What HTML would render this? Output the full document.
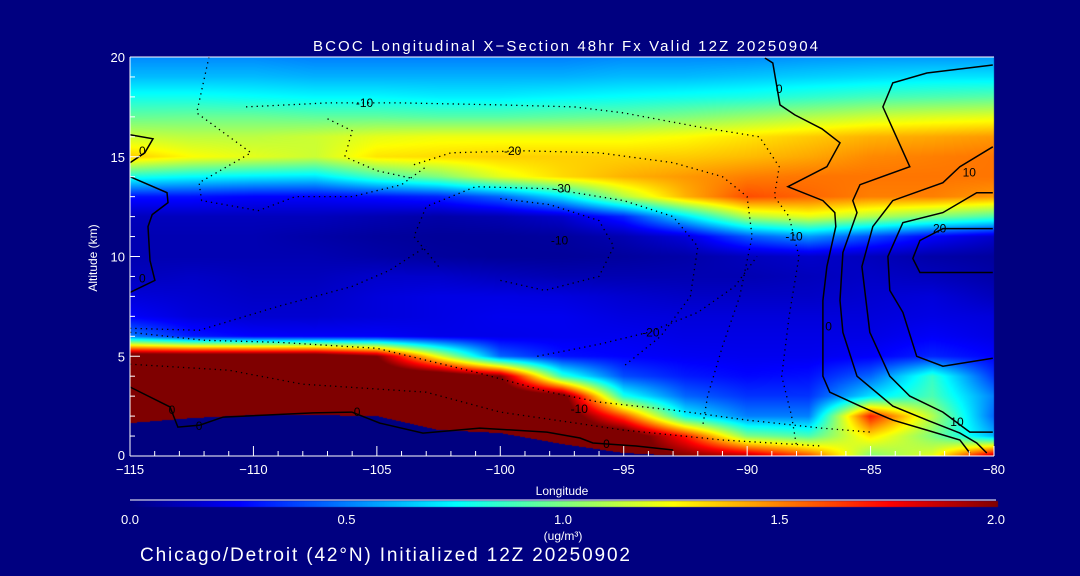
<!DOCTYPE html>
<html><head><meta charset="utf-8">
<style>
html,body{margin:0;padding:0;background:#000080;}
#wrap{position:relative;width:1080px;height:576px;background:#000080;overflow:hidden;font-family:"Liberation Sans",sans-serif;color:#fff;}
canvas{position:absolute;left:0;top:0;}
svg{position:absolute;left:0;top:0;}
</style></head>
<body>
<div id="wrap">
<canvas id="heat" width="1080" height="576"></canvas>
<svg id="svg" width="1080" height="576"></svg>
</div>
<script>
const longitudes = [-115,-112.5,-110,-107.5,-105,-102.5,-100,-97.5,-95,-92.5,-90,-87.5,-85,-82.5,-80];
const altitudesTopDown = [20,19,18,17,16,15,14,13,12,11,10,9,8,7,6,5,4,3,2,1,0];
const concRows = [
[.52,.52,.52,.50,.50,.50,.50,.50,.52,.52,.52,.54,.55,.55,.55],
[.62,.62,.62,.60,.60,.60,.60,.60,.62,.62,.64,.66,.68,.70,.70],
[.78,.78,.76,.74,.74,.72,.72,.74,.76,.78,.80,.84,.88,.90,.92],
[.95,.96,.96,.94,.94,.92,.92,.94,.96,1.0,1.05,1.1,1.15,1.18,1.2],
[1.15,1.12,1.12,1.15,1.2,1.22,1.22,1.22,1.22,1.25,1.3,1.35,1.4,1.42,1.45],
[1.35,1.25,1.2,1.15,1.3,1.32,1.34,1.34,1.34,1.35,1.38,1.42,1.48,1.5,1.52],
[.80,.75,.72,.70,.88,1.0,1.2,1.32,1.4,1.45,1.5,1.52,1.52,1.52,1.52],
[.28,.28,.25,.25,.28,.32,.45,.70,1.1,1.4,1.6,1.55,1.5,1.5,1.45],
[.12,.12,.12,.12,.1,.08,.1,.15,.32,.7,1.1,1.2,1.1,1.0,.9],
[.1,.1,.1,.08,.06,.05,.05,.06,.1,.18,.42,.55,.4,.25,.15],
[.1,.1,.1,.1,.08,.06,.05,.05,.06,.08,.12,.15,.12,.08,.06],
[.12,.14,.12,.12,.15,.15,.12,.1,.1,.1,.1,.12,.14,.12,.08],
[.18,.16,.14,.14,.18,.2,.2,.19,.16,.14,.14,.14,.16,.18,.12],
[.24,.18,.16,.16,.18,.2,.22,.22,.19,.18,.18,.18,.18,.2,.18],
[.5,.3,.25,.24,.24,.21,.21,.22,.22,.2,.2,.2,.2,.24,.2],
[2.2,2.2,2.2,2.2,2.0,1.2,.45,.28,.25,.23,.22,.22,.24,.32,.25],
[2.2,2.2,2.2,2.2,2.2,2.2,2.0,.85,.4,.3,.26,.28,.45,.85,.35],
[2.2,2.2,2.2,2.2,2.2,2.2,2.2,2.1,.8,.45,.35,.35,.7,.9,.5],
[2.2,2.2,2.2,2.2,2.2,2.2,2.2,2.2,1.6,.75,.5,.5,1.7,1.1,.45],
[2.2,2.2,2.2,2.2,2.2,2.2,2.2,2.2,2.2,1.7,1.0,.9,1.3,1.0,.6],
[2.2,2.2,2.2,2.2,2.2,2.2,2.2,2.2,2.1,2.0,1.9,1.6,1.0,1.2,1.9]
];
const terrainHeight = [1.65,1.9,2.05,2.05,2.0,1.3,1.15,0.6,0.15,0,0,0,0,0,0];
const xTickLabels = [-115,-110,-105,-100,-95,-90,-85,-80];
const yTickLabels = [0,5,10,15,20];
const cbarTickLabels = ["0.0","0.5","1.0","1.5","2.0"];
const cbarTickValues = [0,0.5,1,1.5,2];
const contourZeroRight = [[-89.28,19.95],[-88.96,19.7],[-88.67,17.6],[-88.07,17.1],[-86.97,16.4],[-86.24,15.7],[-86.77,14.5],[-88.35,13.5],[-86.93,12.8],[-86.45,12.2],[-86.41,11.5],[-86.77,9.5],[-86.93,7.8],[-86.93,4.0],[-86.65,3.2],[-85.43,2.5],[-84.10,1.8],[-82.72,1.3],[-81.38,0.8],[-80.98,0.15]];
const contourTenA = [[-80.05,19.6],[-82.72,19.2],[-84.10,18.7],[-84.50,17.5],[-83.41,14.5],[-85.43,13.6],[-85.72,12.8],[-85.55,12.2],[-86.12,10.2],[-86.24,7.8],[-86.12,6.2],[-85.55,4.0],[-84.10,2.5],[-82.72,1.8],[-81.38,1.15],[-80.70,0.65],[-80.29,0.15]];
const contourTenB = [[-80.05,15.5],[-81.38,14.5],[-82.07,13.7],[-84.10,12.8],[-84.91,11.5],[-85.35,9.5],[-85.03,6.2],[-84.22,4.0],[-83.41,3.0],[-82.07,2.2],[-80.98,1.2],[-80.05,1.2]];
const contourTwenty = [[-80.05,13.2],[-80.70,13.2],[-82.07,12.2],[-83.69,11.7],[-84.30,10.0],[-84.22,8.3],[-83.69,7.2],[-83.13,5.0],[-82.07,4.5],[-80.05,4.9]];
const contourThirty = [[-80.05,11.4],[-82.07,11.4],[-83.0,10.8],[-83.29,9.9],[-83.0,9.2],[-80.05,9.2]];
const contourZeroLeftTop = [[-115,16.1],[-114.07,15.9],[-114.4,15.2],[-115,14.7]];
const contourZeroLeft = [[-115,14.0],[-113.5,13.2],[-113.46,12.7],[-114.1,12.1],[-114.27,11.5],[-114.19,9.8],[-113.99,8.8],[-115,8.2]];
const contourZeroBottom = [[-115,3.46],[-113.38,2.46],[-113.06,1.45],[-112.17,1.55],[-111.23,1.95],[-107.59,2.16],[-106.01,2.2],[-104.88,1.65],[-103.13,1.15],[-100.83,1.4],[-98.11,1.2],[-96.77,0.9],[-96.25,0.65],[-94.5,0.5],[-93,0.3]];
const dottedA = [[-111.8,20],[-112.3,17.2],[-110.1,15.2],[-112.2,13.7],[-112.1,12.8],[-109.8,12.3],[-108.3,13.0],[-106,13.0],[-104,13.6],[-103,14.5]];
const dottedB = [[-110.3,17.5],[-107,17.7],[-104,17.7],[-100,17.6],[-97,17.5],[-95,17.2],[-92,16.5],[-89.5,16.0],[-88.7,14.5],[-88.9,13.0],[-88.3,12.0],[-87.9,10],[-88.3,7],[-88.6,4],[-88.2,2],[-88,0.5]];
const dottedC = [[-107,16.9],[-106,16.3],[-106.3,15],[-105,14.3],[-103.5,13.9]];
const dottedD = [[-103.5,14.6],[-102,15.2],[-99,15.3],[-96,15.2],[-93,14.7],[-91,14.0],[-90,13.0],[-89.8,11],[-90.3,8],[-91,5.5],[-91.6,3],[-91.8,1.5]];
const dottedE = [[-102.5,9.5],[-103.5,11],[-103,12.5],[-101,13.5],[-98,13.4],[-95,12.8],[-93,12],[-92,10.5],[-92.3,8],[-93.5,6],[-95,4.5]];
const dottedF = [[-100,12.9],[-98,12.6],[-96,11.8],[-95.4,10.5],[-96,9],[-98.2,8.3],[-100,8.8]];
const dottedG = [[-98.5,5],[-96,5.6],[-94,6.2],[-92,7.2],[-90.5,8.5],[-89.6,10]];
const dottedH = [[-115,6.2],[-112,5.8],[-109,5.7],[-105,5.4],[-101,4.2],[-98,3.2],[-96,2.7],[-93,2.3],[-90,1.8],[-87,1.4],[-85,1.2]];
const dottedI = [[-115,6.4],[-112.2,6.3],[-109,7.5],[-106,8.5],[-104.5,9.3],[-103,10.5]];
const dottedJ = [[-115,4.6],[-111,4.3],[-108,3.6],[-103,3.2],[-100,2.2],[-95,1.3],[-91,0.8],[-87,0.5]];
const contourLabels = [["-10",-105.5,17.7],["-20",-99.5,15.3],["-30",-97.5,13.4],["0",-88.7,18.4],["10",-81,14.2],["20",-82.2,11.4],["10",-81.5,1.7],["0",-86.7,6.5],["-10",-88.1,11],["-20",-93.9,6.2],["-10",-96.8,2.35],["0",-95.7,0.6],["0",-105.8,2.2],["0",-112.2,1.5],["0",-113.3,2.3],["0",-114.5,15.3],["0",-114.5,8.9],["-10",-97.6,10.8]];

const X0=130, X1=994, Y0=456, Y1=57;
function xScale(lon){return X0+(lon+115)/35*(X1-X0);}
function yScale(alt){return Y0-(alt/20)*(Y0-Y1);}
function jet(v){
  let t=Math.max(0,Math.min(1,v/2));
  function c(x){return Math.max(0,Math.min(1,x));}
  let r=c(1.5-Math.abs(4*t-3)), g=c(1.5-Math.abs(4*t-2)), b=c(1.5-Math.abs(4*t-1));
  return [r*255|0,g*255|0,b*255|0];
}
function sample(lon,alt){
  let fi=(lon-longitudes[0])/(longitudes[1]-longitudes[0]);
  let fj=(20-alt);
  fi=Math.max(0,Math.min(longitudes.length-1.0001,fi));
  fj=Math.max(0,Math.min(altitudesTopDown.length-1.0001,fj));
  let i=Math.floor(fi), j=Math.floor(fj), a=fi-i, b=fj-j;
  let v00=concRows[j][i],v10=concRows[j][i+1],v01=concRows[j+1][i],v11=concRows[j+1][i+1];
  return (v00*(1-a)+v10*a)*(1-b)+(v01*(1-a)+v11*a)*b;
}
function terrainAt(lon){
  let fi=(lon-longitudes[0])/(longitudes[1]-longitudes[0]);
  fi=Math.max(0,Math.min(longitudes.length-1.0001,fi));
  let i=Math.floor(fi),a=fi-i;
  return terrainHeight[i]*(1-a)+terrainHeight[i+1]*a;
}
const cv=document.getElementById('heat'), ctx=cv.getContext('2d');
const x0=Math.round(X0), x1=Math.round(X1), y0=Math.round(Y1), y1=Math.round(Y0);
const img=ctx.createImageData(x1-x0,y1-y0);
for(let py=y0;py<y1;py++){
  let alt=(Y0-(py+0.5))/(Y0-Y1)*20;
  for(let px=x0;px<x1;px++){
    let lon=-115+(px+0.5-X0)/(X1-X0)*35;
    let col;
    if(alt<terrainAt(lon)) col=[0,0,128]; else col=jet(sample(lon,alt));
    let k=((py-y0)*(x1-x0)+(px-x0))*4;
    img.data[k]=col[0];img.data[k+1]=col[1];img.data[k+2]=col[2];img.data[k+3]=255;
  }
}
ctx.putImageData(img,x0,y0);
for(let px=130;px<998;px++){
  let c=jet((px-130)/(998-130)*2);
  ctx.fillStyle='rgb('+c[0]+','+c[1]+','+c[2]+')';
  ctx.fillRect(px,501,1,6);
}

const svg=document.getElementById('svg'), NS='http://www.w3.org/2000/svg';
function mk(tag,attrs,parent){const e=document.createElementNS(NS,tag);for(const k in attrs)e.setAttribute(k,attrs[k]);(parent||svg).appendChild(e);return e;}
function poly(pts,dash,name){
  const e=mk('polyline',{points:pts.map(p=>xScale(p[0]).toFixed(1)+','+yScale(p[1]).toFixed(1)).join(' '),fill:'none',stroke:'#000','stroke-width':dash?1.3:1.5,'stroke-dasharray':dash?'1.3 4':'none'});
  
  
}
poly(contourZeroRight,false,'contour-0-right');
poly(contourTenA,false,'contour-10-a');
poly(contourTenB,false,'contour-10-b');
poly(contourTwenty,false,'contour-20');
poly(contourThirty,false,'contour-30');
poly(contourZeroLeftTop,false,'contour-0-left-top');
poly(contourZeroLeft,false,'contour-0-left');
poly(contourZeroBottom,false,'contour-0-bottom');
[dottedA,dottedB,dottedC,dottedD,dottedE,dottedF,dottedG,dottedH,dottedI,dottedJ].forEach((d,i)=>poly(d,true,'contour-negative-'+i));
contourLabels.forEach(l=>{
  const t=mk('text',{x:xScale(l[1]),y:yScale(l[2])+4,'font-size':12,fill:'#000','text-anchor':'middle'});
  t.textContent=l[0];
  
  
});
function line(x1,y1,x2,y2,name){const e=mk('line',{x1,y1,x2,y2,stroke:'#fff','stroke-width':1});}
line(X0,Y1,X1,Y1,'top-frame');
line(X0,Y0,X1,Y0,'x-axis-line');
line(X0,Y1,X0,Y0,'y-axis-line');
for(let lon=-115;lon<=-80;lon++){
  let major=(lon%5===0);
  line(xScale(lon),Y0,xScale(lon),Y0-(major?10:5),'x-tick');
}
for(let a=0;a<=20;a++){
  let major=(a%5===0);
  line(X0,yScale(a),X0+(major?10:5),yScale(a),'y-tick');
}
xTickLabels.forEach(v=>{
  const t=mk('text',{x:xScale(v),y:474,'font-size':13,fill:'#fff','text-anchor':'middle'});
  t.textContent=(v<0?'\u2212':'')+Math.abs(v);
  
  
});
yTickLabels.forEach(v=>{
  const t=mk('text',{x:125,y:Math.min(yScale(v)+5,460),'font-size':13,fill:'#fff','text-anchor':'end'});
  t.textContent=v;
  
  
});
line(130,500,996,500,'colorbar-top-line');
cbarTickValues.forEach((v,i)=>{
  const t=mk('text',{x:130+v/2*866,y:524,'font-size':13,fill:'#fff','text-anchor':'middle'});
  t.textContent=cbarTickLabels[i];
  
  
});
</script>
<svg width="1080" height="576" style="position:absolute;left:0;top:0">
<text x="313" y="51" font-size="15" fill="#fff" font-family="Liberation Sans, sans-serif" textLength="505">BCOC Longitudinal X&#8722;Section 48hr  Fx Valid 12Z 20250904</text>
<text x="562" y="495" font-size="12" fill="#fff" text-anchor="middle" font-family="Liberation Sans, sans-serif">Longitude</text>
<text transform="translate(97,258) rotate(-90)" font-size="12" fill="#fff" text-anchor="middle" font-family="Liberation Sans, sans-serif">Altitude (km)</text>
<text x="563" y="540" font-size="12" fill="#fff" text-anchor="middle" font-family="Liberation Sans, sans-serif">(ug/m³)</text>
<text x="140" y="561" font-size="19" fill="#fff" font-family="Liberation Sans, sans-serif" textLength="490">Chicago/Detroit (42°N) Initialized 12Z 20250902</text>
</svg>
</body></html>
